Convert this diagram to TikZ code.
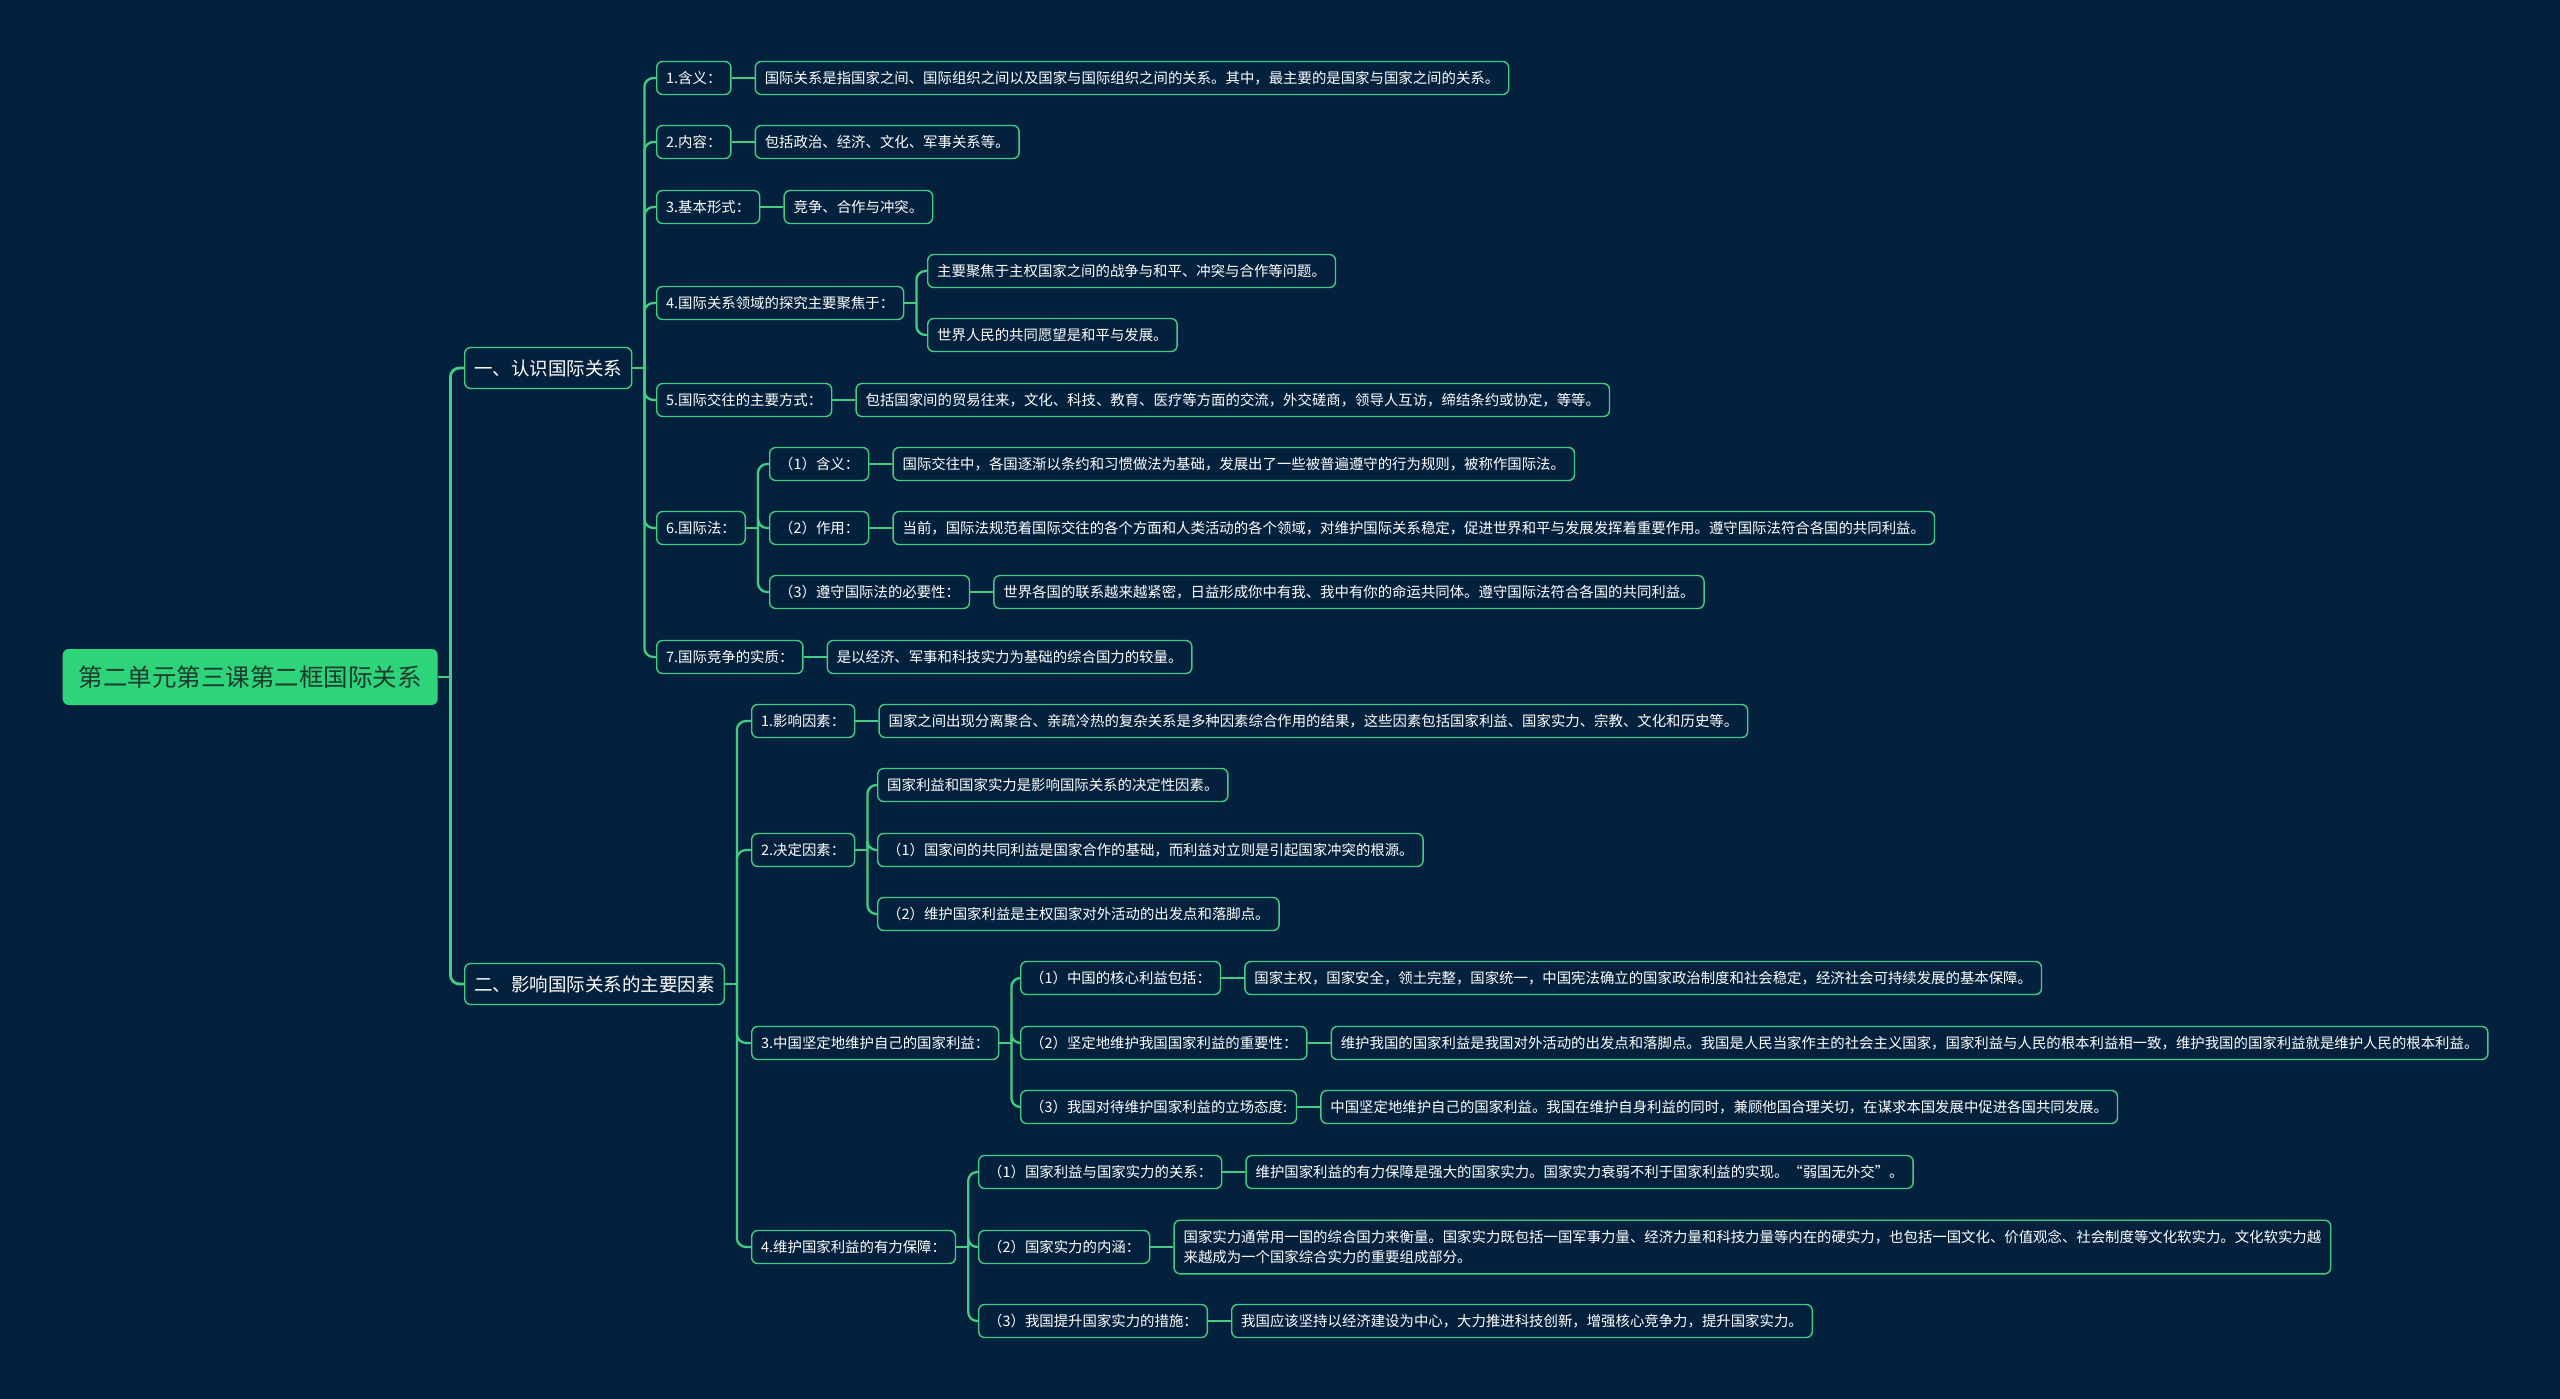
\documentclass[tikz,border=0pt]{standalone}
\usepackage{fontspec}
\setmainfont{Noto Sans CJK SC}
\usepackage{xcolor}
\usetikzlibrary{positioning,calc}

\definecolor{navybg}{RGB}{3,33,61}
\definecolor{mapgreen}{RGB}{66,204,132}
\definecolor{rootgreen}{RGB}{46,212,122}
\definecolor{rootink}{RGB}{30,58,46}

\begin{document}
\begin{tikzpicture}[
    x=1pt, y=-1pt,
    node distance=23pt,
    box/.style={draw=mapgreen, line width=1.4pt, rounded corners=6pt, fill=navybg,
                text=white, anchor=west, inner xsep=9.5pt, inner ysep=0pt,
                minimum height=33pt, font=\fontsize{14.4}{20}\selectfont},
    rootbox/.style={box, draw=none, fill=rootgreen, text=rootink, inner xsep=16pt,
                minimum height=56pt, font=\fontsize{24.5}{30}\selectfont},
    topicbox/.style={box, minimum height=41pt, font=\fontsize{18.5}{24}\selectfont},
    tagbox/.style={box},
    leafbox/.style={box},
    link/.style={draw=mapgreen, line width=2.3pt, rounded corners=9pt},
  ]
  \fill[navybg] (0,0) rectangle (2560,1399);
  \useasboundingbox (0,0) rectangle (2560,1399);

  % root and the two topics
  \node[rootbox]  (root) at (62,677)  {第二单元第三课第二框国际关系};
  \node[topicbox] (t1)   at (464,368) {一、认识国际关系};
  \node[topicbox] (t2)   at (464,984) {二、影响国际关系的主要因素};

  % topic 1 (column of tags, leaves to the right)
  \node[tagbox] (a1) at (656,78)  {1.含义：};
  \node[leafbox, right=of a1] (a1x) {国际关系是指国家之间、国际组织之间以及国家与国际组织之间的关系。其中，最主要的是国家与国家之间的关系。};
  \node[tagbox] (a2) at (656,142) {2.内容：};
  \node[leafbox, right=of a2] (a2x) {包括政治、经济、文化、军事关系等。};
  \node[tagbox] (a3) at (656,207) {3.基本形式：};
  \node[leafbox, right=of a3] (a3x) {竞争、合作与冲突。};
  \node[tagbox] (a4) at (656,303) {4.国际关系领域的探究主要聚焦于：};
  \node[leafbox] (a4x) at (927,271) {主要聚焦于主权国家之间的战争与和平、冲突与合作等问题。};
  \node[leafbox] (a4y) at (927,335) {世界人民的共同愿望是和平与发展。};
  \node[tagbox] (a5) at (656,400) {5.国际交往的主要方式：};
  \node[leafbox, right=of a5] (a5x) {包括国家间的贸易往来，文化、科技、教育、医疗等方面的交流，外交磋商，领导人互访，缔结条约或协定，等等。};
  \node[tagbox] (a6) at (656,528) {6.国际法：};
  \node[tagbox] (a6a) at (769,464) {（1）含义：};
  \node[leafbox, right=of a6a] (a6ax) {国际交往中，各国逐渐以条约和习惯做法为基础，发展出了一些被普遍遵守的行为规则，被称作国际法。};
  \node[tagbox] (a6b) at (769,528) {（2）作用：};
  \node[leafbox, right=of a6b] (a6bx) {当前，国际法规范着国际交往的各个方面和人类活动的各个领域，对维护国际关系稳定，促进世界和平与发展发挥着重要作用。遵守国际法符合各国的共同利益。};
  \node[tagbox] (a6c) at (769,592) {（3）遵守国际法的必要性：};
  \node[leafbox, right=of a6c] (a6cx) {世界各国的联系越来越紧密，日益形成你中有我、我中有你的命运共同体。遵守国际法符合各国的共同利益。};
  \node[tagbox] (a7) at (656,657) {7.国际竞争的实质：};
  \node[leafbox, right=of a7] (a7x) {是以经济、军事和科技实力为基础的综合国力的较量。};

  % topic 2
  \node[tagbox] (b1) at (751,721) {1.影响因素：};
  \node[leafbox, right=of b1] (b1x) {国家之间出现分离聚合、亲疏冷热的复杂关系是多种因素综合作用的结果，这些因素包括国家利益、国家实力、宗教、文化和历史等。};
  \node[tagbox] (b2) at (751,850) {2.决定因素：};
  \node[leafbox] (b2x) at (877,785) {国家利益和国家实力是影响国际关系的决定性因素。};
  \node[leafbox] (b2y) at (877,850) {（1）国家间的共同利益是国家合作的基础，而利益对立则是引起国家冲突的根源。};
  \node[leafbox] (b2z) at (877,914) {（2）维护国家利益是主权国家对外活动的出发点和落脚点。};
  \node[tagbox] (b3) at (751,1043) {3.中国坚定地维护自己的国家利益：};
  \node[tagbox] (b3a) at (1020,978) {（1）中国的核心利益包括：};
  \node[leafbox, right=of b3a] (b3ax) {国家主权，国家安全，领土完整，国家统一，中国宪法确立的国家政治制度和社会稳定，经济社会可持续发展的基本保障。};
  \node[tagbox] (b3b) at (1020,1043) {（2）坚定地维护我国国家利益的重要性：};
  \node[leafbox, right=of b3b] (b3bx) {维护我国的国家利益是我国对外活动的出发点和落脚点。我国是人民当家作主的社会主义国家，国家利益与人民的根本利益相一致，维护我国的国家利益就是维护人民的根本利益。};
  \node[tagbox] (b3c) at (1020,1107) {（3）我国对待维护国家利益的立场态度:};
  \node[leafbox, right=of b3c] (b3cx) {中国坚定地维护自己的国家利益。我国在维护自身利益的同时，兼顾他国合理关切，在谋求本国发展中促进各国共同发展。};
  \node[tagbox] (b4) at (751,1247) {4.维护国家利益的有力保障：};
  \node[tagbox] (b4a) at (978,1172) {（1）国家利益与国家实力的关系：};
  \node[leafbox, right=of b4a] (b4ax) {维护国家利益的有力保障是强大的国家实力。国家实力衰弱不利于国家利益的实现。“弱国无外交”。};
  \node[tagbox] (b4b) at (978,1247) {（2）国家实力的内涵：};
  \node[leafbox, right=of b4b, align=left, inner ysep=10pt] (b4bx) {国家实力通常用一国的综合国力来衡量。国家实力既包括一国军事力量、经济力量和科技力量等内在的硬实力，也包括一国文化、价值观念、社会制度等文化软实力。文化软实力越\\来越成为一个国家综合实力的重要组成部分。};
  \node[tagbox] (b4c) at (978,1321) {（3）我国提升国家实力的措施：};
  \node[leafbox, right=of b4c] (b4cx) {我国应该坚持以经济建设为中心，大力推进科技创新，增强核心竞争力，提升国家实力。};

  % connectors -- elbows from a joint just right of each parent
  \coordinate (j-root) at ([xshift=12pt]root.east);
  \draw[link, line width=2.8pt] (root.east) -- (j-root);
  \foreach \n in {t1,t2} \draw[link, line width=2.8pt] (j-root) |- (\n.west);
  \foreach \p/\kids in {t1/{a1,a2,a3,a4,a5,a6,a7}, t2/{b1,b2,b3,b4},
                        a4/{a4x,a4y}, a6/{a6a,a6b,a6c}, b2/{b2x,b2y,b2z},
                        b3/{b3a,b3b,b3c}, b4/{b4a,b4b,b4c}} {
    \coordinate (j-\p) at ([xshift=12pt]\p.east);
    \draw[link] (\p.east) -- (j-\p);
    \foreach \k in \kids \draw[link] (j-\p) |- (\k.west);
  }
  \foreach \a/\b in {a1/a1x, a2/a2x, a3/a3x, a5/a5x, a7/a7x, a6a/a6ax, a6b/a6bx,
                     a6c/a6cx, b1/b1x, b3a/b3ax, b3b/b3bx, b3c/b3cx, b4a/b4ax,
                     b4b/b4bx, b4c/b4cx}
    \draw[link] (\a.east) -- (\b.west);
\end{tikzpicture}
\end{document}
